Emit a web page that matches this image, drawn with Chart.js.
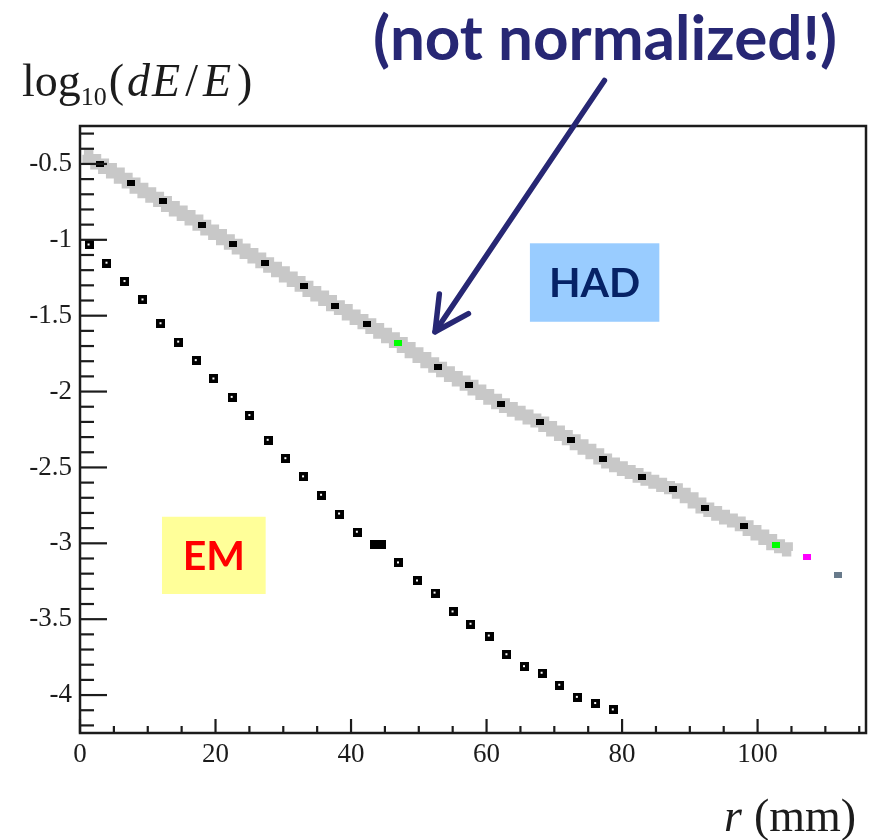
<!DOCTYPE html>
<html>
<head>
<meta charset="utf-8">
<script src="https://cdn.jsdelivr.net/npm/chart.js@4.4.0/dist/chart.umd.min.js"></script>
<style>
  html, body { margin: 0; padding: 0; background: #fff; }
  #wrap { width: 873px; height: 840px; }
</style>
</head>
<body>
<div id="wrap"><canvas id="profile" width="873" height="840"></canvas></div>
<script>
// lateral shower profile: log10(dE/E) against r (mm)
const binWidth = 1.16; // mm per histogram bin

// HAD grey band, one value per bin starting at r = 0
const hadBand = [
  -0.44, -0.47, -0.50, -0.53, -0.56, -0.595, -0.626, -0.66, -0.69, -0.72,
  -0.747, -0.78, -0.81, -0.84, -0.87, -0.904, -0.935, -0.965, -1.00, -1.03,
  -1.06, -1.09, -1.12, -1.151, -1.18, -1.21, -1.245, -1.275, -1.306, -1.34,
  -1.37, -1.40, -1.434, -1.46, -1.495, -1.525, -1.553, -1.585, -1.615, -1.645,
  -1.677, -1.71, -1.745, -1.775, -1.81, -1.84, -1.87, -1.90, -1.93, -1.959,
  -1.99, -2.02, -2.05, -2.081, -2.105, -2.13, -2.155, -2.18, -2.20, -2.23,
  -2.26, -2.29, -2.318, -2.35, -2.38, -2.41, -2.445, -2.47, -2.495, -2.52,
  -2.54, -2.564, -2.585, -2.605, -2.625, -2.641, -2.67, -2.70, -2.735, -2.767,
  -2.79, -2.815, -2.84, -2.86, -2.885, -2.915, -2.945, -2.975, -3.01, -3.03,
  -3.05
];

// HAD markers (bin index, value)
const hadBins = [2, 6, 10, 15, 19, 23, 28, 32, 36, 40, 45, 49, 53, 58, 62, 66, 71, 75, 79, 84, 88, 92, 96];
const hadValues = [
  -0.500, -0.626, -0.747, -0.904, -1.030, -1.151, -1.306, -1.434, -1.553, -1.677,
  -1.840, -1.959, -2.081, -2.200, -2.318, -2.445, -2.564, -2.641, -2.767, -2.885,
  -3.010, -3.089, -3.211
];
const hadColors = [
  '#000', '#000', '#000', '#000', '#000', '#000', '#000', '#000', '#000', '#00ff00',
  '#000', '#000', '#000', '#000', '#000', '#000', '#000', '#000', '#000', '#000',
  '#00ff00', '#ff00ff', '#687a8b'
];

// EM markers
const emR = [
  1.33, 3.98, 6.64, 9.29, 11.95, 14.56, 17.15, 19.76, 22.46, 25.07,
  27.77, 30.38, 32.99, 35.65, 38.30, 40.93, 43.5, 44.5, 47.0, 49.8,
  52.4, 55.05, 57.7, 60.4, 63.0, 65.6, 68.2, 70.8, 73.4, 76.1, 78.7
];
const emValues = [
  -1.034, -1.154, -1.275, -1.396, -1.553, -1.674, -1.796, -1.917, -2.038, -2.158,
  -2.321, -2.442, -2.562, -2.683, -2.807, -2.927, -3.007, -3.007, -3.129, -3.248,
  -3.328, -3.452, -3.533, -3.611, -3.734, -3.813, -3.856, -3.935, -4.015, -4.056,
  -4.098
];

const xTicks = [0, 20, 40, 60, 80, 100];
const yTicks = [-4, -3.5, -3, -2.5, -2, -1.5, -1, -0.5];

const serif = '"Liberation Serif", "DejaVu Serif", serif';
const sans = 'Lato, "Open Sans", sans-serif';
const ink = '#1c1c1c';
const navy = '#272774';

function markerImage(w, h, color, hollow) {
  const c = document.createElement('canvas');
  c.width = w; c.height = h;
  const g = c.getContext('2d');
  g.fillStyle = color;
  g.fillRect(0, 0, w, h);
  if (hollow) {
    g.fillStyle = '#fff';
    g.fillRect(Math.floor(w / 2) - 1, Math.floor(h / 2) - 1, 2, 2);
  }
  return c;
}

const emOpen = markerImage(9, 9, '#000', true);
const emFull = markerImage(9, 9, '#000', false);

const bandPoints = hadBand.map((v, i) => ({ x: (i + 0.5) * binWidth, y: v }));
const hadPoints = hadBins.map((b, i) => ({ x: (b + 0.5) * binWidth, y: hadValues[i] }));
const emPoints = emR.map((r, i) => ({ x: r, y: emValues[i] }));

// ROOT style frame with ticks pointing into the pad
const frameTicks = {
  id: 'frameTicks',
  afterDatasetsDraw(chart) {
    const { ctx, chartArea: a, scales: { x, y } } = chart;
    ctx.save();
    ctx.strokeStyle = ink;
    ctx.lineWidth = 2.2;
    for (let v = 0; v <= x.max; v += 5) {
      const px = x.getPixelForValue(v);
      const len = v % 20 === 0 ? 14 : 7;
      ctx.beginPath();
      ctx.moveTo(px, a.bottom);
      ctx.lineTo(px, a.bottom - len);
      ctx.stroke();
    }
    for (let i = -42; i <= -3; i++) {
      const py = y.getPixelForValue(i / 10);
      const len = i % 5 === 0 ? 27 : 14;
      ctx.beginPath();
      ctx.moveTo(a.left, py);
      ctx.lineTo(a.left + len, py);
      ctx.stroke();
    }
    ctx.lineWidth = 2.5;
    ctx.strokeRect(a.left, a.top, a.width, a.height);
    ctx.restore();
  }
};

function drawRuns(ctx, x, y, runs) {
  runs.forEach(r => {
    ctx.font = r.font;
    ctx.fillText(r.t, x, y + (r.dy || 0));
    x += ctx.measureText(r.t).width + (r.gap || 0);
  });
}

function labelBox(ctx, x, y, x0, y0, x1, y1, fill, text, color) {
  const l = x.getPixelForValue(x0), r = x.getPixelForValue(x1);
  const t = y.getPixelForValue(y0), b = y.getPixelForValue(y1);
  ctx.fillStyle = fill;
  ctx.fillRect(l, t, r - l, b - t);
  ctx.font = 'bold 41px ' + sans;
  ctx.fillStyle = color;
  ctx.textAlign = 'center';
  ctx.textBaseline = 'alphabetic';
  const m = ctx.measureText(text);
  ctx.fillText(text, (l + r) / 2, (t + b) / 2 + m.actualBoundingBoxAscent / 2);
}

// axis titles, HAD / EM tags and the arrow
const notes = {
  id: 'notes',
  afterDraw(chart) {
    const { ctx, scales: { x, y } } = chart;
    ctx.save();
    ctx.fillStyle = ink;
    ctx.textAlign = 'left';
    ctx.textBaseline = 'alphabetic';
    const big = '46px ' + serif, it = 'italic 46px ' + serif;
    drawRuns(ctx, 22, 96, [
      { t: 'log', font: big },
      { t: '10', font: '26px ' + serif, dy: 9, gap: 2 },
      { t: '(', font: big, gap: 3 },
      { t: 'd', font: it, gap: 2 },
      { t: 'E', font: it, gap: 5 },
      { t: '/', font: big, gap: 5 },
      { t: 'E', font: it, gap: 6 },
      { t: ')', font: big }
    ]);
    drawRuns(ctx, 724, 831, [
      { t: 'r', font: 'italic 46px ' + serif, gap: 12 },
      { t: '(mm)', font: '46px ' + serif }
    ]);

    labelBox(ctx, x, y, 66.4, -1.023, 85.5, -1.540, '#99ccff', 'HAD', '#062266');
    labelBox(ctx, x, y, 12.1, -2.825, 27.4, -3.334, '#ffff99', 'EM', '#ff0000');

    ctx.fillStyle = navy;
    ctx.font = 'bold 62px ' + sans;
    ctx.textAlign = 'center';
    ctx.fillText('(not normalized!)', 605, 60);

    // arrow from the note down onto the HAD band
    const tx = x.getPixelForValue(52.4), ty = y.getPixelForValue(-1.606);
    const sx = x.getPixelForValue(77.4), sy = y.getPixelForValue(0.05);
    const ang = Math.atan2(ty - sy, tx - sx);
    ctx.strokeStyle = navy;
    ctx.lineWidth = 5.5;
    ctx.lineCap = 'round';
    ctx.lineJoin = 'round';
    ctx.beginPath();
    ctx.moveTo(sx, sy);
    ctx.lineTo(tx, ty);
    ctx.stroke();
    ctx.beginPath();
    ctx.moveTo(tx + 38 * Math.cos(ang + Math.PI - 0.48), ty + 38 * Math.sin(ang + Math.PI - 0.48));
    ctx.lineTo(tx, ty);
    ctx.lineTo(tx + 38 * Math.cos(ang + Math.PI + 0.48), ty + 38 * Math.sin(ang + Math.PI + 0.48));
    ctx.stroke();
    ctx.restore();
  }
};

new Chart(document.getElementById('profile'), {
  type: 'scatter',
  data: {
    datasets: [
      {
        label: 'EM',
        data: emPoints,
        order: 0,
        pointRadius: 4,
        pointStyle: c => {
          const i = c.dataIndex;
          const near = (j) => j >= 0 && j < emR.length && Math.abs(emR[j] - emR[i]) < 1.5;
          return near(i - 1) || near(i + 1) ? emFull : emOpen;
        }
      },
      {
        label: 'HAD',
        data: hadPoints,
        order: 1,
        pointRadius: 4,
        pointStyle: c => markerImage(8, 6, hadColors[c.dataIndex], false)
      },
      {
        label: 'HAD band',
        type: 'line',
        data: bandPoints,
        order: 2,
        stepped: 'middle',
        borderColor: '#c8c8c8',
        borderWidth: 11,
        pointRadius: 0,
        fill: false
      }
    ]
  },
  options: {
    responsive: false,
    animation: false,
    devicePixelRatio: 1,
    layout: { padding: { top: 126, right: 7, left: 0, bottom: 0 } },
    plugins: { legend: { display: false }, tooltip: { enabled: false } },
    scales: {
      x: {
        type: 'linear',
        min: 0,
        max: 116,
        afterBuildTicks: s => { s.ticks = xTicks.map(v => ({ value: v })); },
        afterFit: s => { s.height = 107; },
        grid: { display: false, drawTicks: false },
        border: { display: false },
        ticks: {
          padding: 6,
          color: ink,
          font: { family: serif, size: 27 },
          callback: v => String(v)
        }
      },
      y: {
        type: 'linear',
        min: -4.25,
        max: -0.25,
        afterBuildTicks: s => { s.ticks = yTicks.map(v => ({ value: v })); },
        afterFit: s => { s.width = 80; },
        grid: { display: false, drawTicks: false },
        border: { display: false },
        ticks: {
          padding: 8,
          color: ink,
          font: { family: serif, size: 27 },
          callback: v => String(v)
        }
      }
    }
  },
  plugins: [frameTicks, notes]
});
</script>
</body>
</html>
